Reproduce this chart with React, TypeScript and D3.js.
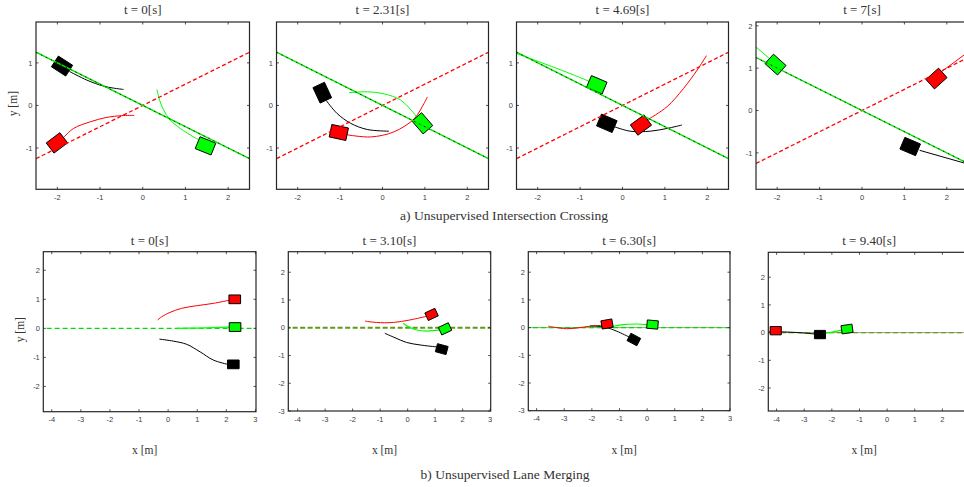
import React from "react";
import * as d3 from "d3";

type Pt = [number, number];
type Car = [number, number, number]; // x, y, heading (deg)

// ---------- Data: a) Unsupervised Intersection Crossing ----------
const topTitles = ["t = 0[s]", "t = 2.31[s]", "t = 4.69[s]", "t = 7[s]"];
const topXTicks = [-2, -1, 0, 1, 2];
const topYTicks = [[-1, 0, 1], [-1, 0, 1], [-1, 0, 1], [-1, 0, 1, 2]];
const redLaneRef: Pt[] = [[-2.5, -1.25], [2.5, 1.25]];
const greenBlackLaneRef: Pt[] = [[-2.5, 1.25], [2.5, -1.25]];

const topRedCars: Car[] = [[-2.01, -0.88, 37], [-1.03, -0.635, -12], [0.435, -0.46, 36], [1.757, 0.755, 42]];
const topGreenCars: Car[] = [[1.47, -0.95, -22], [0.94, -0.42, -49], [-0.607, 0.485, -23], [-2.04, 1.085, -42]];
const topBlackCars: Car[] = [[-1.89, 0.925, -33], [-1.42, 0.3, -65], [-0.37, -0.42, -23], [1.137, -0.85, -23]];

const topRedPaths: Pt[][] = [
  [[-1.85, -0.75], [-1.62, -0.54], [-1.23, -0.385], [-0.84, -0.28], [-0.5, -0.24], [-0.2, -0.235]],
  [[-0.83, -0.69], [-0.28, -0.74], [0.27, -0.62], [0.75, -0.31], [0.98, 0.05], [1.06, 0.2]],
  [[0.6, -0.33], [1.05, -0.03], [1.44, 0.4], [1.76, 0.83], [1.98, 1.17]],
  [[1.88, 0.92], [2.5, 1.38]],
];
const topGreenPaths: Pt[][] = [
  [[1.3, -0.8], [1.19, -0.74], [0.88, -0.54], [0.645, -0.345], [0.49, -0.11], [0.395, 0.125], [0.33, 0.376]],
  [[0.8, -0.26], [0.43, 0.125], [0.04, 0.27], [-0.36, 0.32], [-0.79, 0.3]],
  [[-0.79, 0.57], [-1.55, 0.87], [-2.5, 1.22]],
  [[-2.15, 1.2], [-2.5, 1.5]],
];
const topBlackPaths: Pt[][] = [
  [[-1.72, 0.8], [-1.31, 0.595], [-0.92, 0.454], [-0.685, 0.407], [-0.45, 0.376]],
  [[-1.33, 0.12], [-1.07, -0.19], [-0.75, -0.42], [-0.36, -0.565], [0.15, -0.605]],
  [[-0.19, -0.5], [0.18, -0.605], [0.655, -0.605], [1.05, -0.54], [1.405, -0.46]],
  [[1.36, -0.94], [2.5, -1.265]],
];

// ---------- Data: b) Unsupervised Lane Merging ----------
const botTitles = ["t = 0[s]", "t = 3.10[s]", "t = 6.30[s]", "t = 9.40[s]"];
const botXTicks = [[-4, -3, -2, -1, 0, 1, 2, 3], [-4, -3, -2, -1, 0, 1, 2, 3], [-4, -3, -2, -1, 0, 1, 2, 3], [-4, -3, -2, -1, 0, 1, 2]];
const botYTicks = [[-2, -1, 0, 1, 2], [-3, -2, -1, 0, 1, 2], [-3, -2, -1, 0, 1, 2], [-2, -1, 0, 1, 2]];
const laneRef: Pt[] = [[-5, 0], [4, 0]];

const botRedCars: Car[] = [[2.29, 1.0, 0], [0.87, 0.48, 25], [-1.45, 0.13, 10], [-4.03, 0.07, 0]];
const botGreenCars: Car[] = [[2.3, 0.045, 0], [1.36, -0.04, 25], [0.195, 0.11, -5], [-1.45, 0.13, 8]];
const botBlackCars: Car[] = [[2.24, -1.24, 0], [1.24, -0.77, -15], [-0.48, -0.43, -28], [-2.43, -0.07, 0]];

const botRedPaths: Pt[][] = [
  [[2.13, 0.976], [1.55, 0.86], [0.98, 0.78], [0.467, 0.69], [0.065, 0.55], [-0.22, 0.4], [-0.36, 0.29]],
  [[0.68, 0.41], [0.08, 0.28], [-0.52, 0.19], [-1.13, 0.19], [-1.55, 0.24]],
  [[-1.65, 0.08], [-2.07, 0.05], [-2.5, -0.01], [-2.92, -0.04], [-3.34, 0.01], [-3.58, 0.05]],
  [[-4.2, 0.05], [-4.32, 0.05]],
];
const botGreenPaths: Pt[][] = [
  [[0.3, 0.0], [1.0, 0.01], [1.6, 0.025], [2.1, 0.04]],
  [[1.17, -0.08], [0.69, -0.12], [0.33, -0.08], [0.02, 0.04], [-0.16, 0.16]],
  [[0.0, 0.11], [-0.38, 0.13], [-0.87, 0.11], [-1.23, 0.05], [-1.53, -0.04]],
  [[-2.3, -0.03], [-1.95, 0.03], [-1.62, 0.1]],
];
const botBlackPaths: Pt[][] = [
  [[2.05, -1.24], [1.55, -1.09], [1.1, -0.81], [0.64, -0.55], [0.18, -0.44], [-0.3, -0.37]],
  [[1.05, -0.69], [0.45, -0.62], [-0.04, -0.53], [-0.46, -0.36], [-0.83, -0.2]],
  [[-0.65, -0.34], [-1.1, -0.13], [-1.53, 0.02], [-2.07, 0.06]],
  [[-3.85, 0.03], [-3.2, 0.0], [-2.62, -0.05]],
];

// ---------- Layout ----------
type Box = [number, number, number, number];
interface Cfg { box: Box; xd: [number, number]; yd: [number, number] }
const topLayout: Cfg[] = [
  { box: [36, 22, 249.5, 189.3], xd: [-2.5, 2.5], yd: [-1.97, 1.96] },
  { box: [276.5, 22, 488.5, 189.3], xd: [-2.5, 2.5], yd: [-1.97, 1.96] },
  { box: [516.5, 22, 728.5, 189.3], xd: [-2.5, 2.5], yd: [-1.97, 1.96] },
  { box: [756, 22, 968, 189.3], xd: [-2.5, 2.5], yd: [-1.86, 2.09] },
];
const botLayout: Cfg[] = [
  { box: [43.3, 251.7, 256, 411.7], xd: [-4.29, 3.02], yd: [-2.87, 2.64] },
  { box: [288.3, 251.7, 490.7, 411], xd: [-4.34, 3.02], yd: [-3.0, 2.74] },
  { box: [528.3, 251.7, 730, 410.7], xd: [-4.3, 3.0], yd: [-3.0, 2.74] },
  { box: [768.3, 252.3, 970, 411], xd: [-4.3, 3.0], yd: [-2.83, 2.9] },
];
const botLaneStyles = [
  [{ c: "#00dd00", w: 1.3, d: "5 3" }],
  [{ c: "#5f9a12", w: 2.2, d: "5 2.5" }],
  [{ c: "#8a8a6a", w: 0.8, d: "" }, { c: "#00dd00", w: 1.3, d: "5 3" }],
  [{ c: "#8a8a6a", w: 0.8, d: "" }, { c: "#5fa020", w: 1.4, d: "5 3" }],
];

const CAR_L = 0.4;
const CAR_W = 0.3;
const RED = "#ff0000";
const GREEN = "#00ff00";
const AX = "#262626";
const SERIF = "'Liberation Serif', 'DejaVu Serif', serif";
const SANS = "'Liberation Sans', Arial, sans-serif";

function carD(c: Car, xs: d3.ScaleLinear<number, number>, ys: d3.ScaleLinear<number, number>) {
  const [cx, cy, hd] = c;
  const a = (hd * Math.PI) / 180;
  const ux = Math.cos(a), uy = Math.sin(a), vx = -uy, vy = ux;
  const pts = [[1, 1], [1, -1], [-1, -1], [-1, 1]].map(([s, t]) => [
    cx + (s * CAR_L) / 2 * ux + (t * CAR_W) / 2 * vx,
    cy + (s * CAR_L) / 2 * uy + (t * CAR_W) / 2 * vy,
  ]);
  return "M" + pts.map((p) => `${xs(p[0])},${ys(p[1])}`).join("L") + "Z";
}

interface PanelProps {
  id: string;
  cfg: Cfg;
  title: string;
  xticks: number[];
  yticks: number[];
  yLabel: boolean;
  xLabel: boolean;
  titleY: number;
  under: (xs: any, ys: any, line: any) => React.ReactNode;
  over: (xs: any, ys: any, line: any) => React.ReactNode;
  cars: { c: Car; fill: string }[];
  paths: { p: Pt[]; stroke: string; w?: number }[];
}

function Panel(props: PanelProps) {
  const { id, cfg, title, xticks, yticks, yLabel, xLabel, titleY } = props;
  const [l, t, r, b] = cfg.box;
  const xs = d3.scaleLinear().domain(cfg.xd).range([l, r]);
  const ys = d3.scaleLinear().domain(cfg.yd).range([b, t]);
  const line = d3.line<Pt>().x((d) => xs(d[0])).y((d) => ys(d[1]));
  const smooth = d3.line<Pt>().x((d) => xs(d[0])).y((d) => ys(d[1])).curve(d3.curveCatmullRom.alpha(0.5));
  const tl = 2.5;
  const cx = (l + r) / 2;
  const cy = (t + b) / 2;
  return (
    <g>
      <defs>
        <clipPath id={id}>
          <rect x={l} y={t} width={r - l} height={b - t} />
        </clipPath>
      </defs>
      <rect x={l} y={t} width={r - l} height={b - t} fill="#fff" />
      <g clipPath={`url(#${id})`}>
        {props.under(xs, ys, line)}
        {props.paths.map((p, i) => (
          <path key={"p" + i} d={smooth(p.p) || ""} fill="none" stroke={p.stroke} strokeWidth={p.w ?? 1} />
        ))}
        {props.cars.map((c, i) => (
          <path key={"c" + i} d={carD(c.c, xs, ys)} fill={c.fill} stroke="#000" strokeWidth={1} strokeLinejoin="miter" />
        ))}
        {props.over(xs, ys, line)}
      </g>
      {xticks.map((v) => (
        <g key={"xt" + v}>
          <line x1={xs(v)} x2={xs(v)} y1={b} y2={b - tl} stroke={AX} strokeWidth={0.8} />
          <line x1={xs(v)} x2={xs(v)} y1={t} y2={t + tl} stroke={AX} strokeWidth={0.8} />
          <text x={xs(v)} y={b + 10.5} fontSize={7.5} fontFamily={SANS} fill="#404040" textAnchor="middle">
            {v}
          </text>
        </g>
      ))}
      {yticks.map((v) => (
        <g key={"yt" + v}>
          <line x1={l} x2={l + tl} y1={ys(v)} y2={ys(v)} stroke={AX} strokeWidth={0.8} />
          <line x1={r} x2={r - tl} y1={ys(v)} y2={ys(v)} stroke={AX} strokeWidth={0.8} />
          <text x={l - 3.5} y={ys(v) + 2.7} fontSize={7.5} fontFamily={SANS} fill="#404040" textAnchor="end">
            {v}
          </text>
        </g>
      ))}
      <rect x={l} y={t} width={r - l} height={b - t} fill="none" stroke={AX} strokeWidth={1.2} />
      <text x={cx} y={titleY} fontSize={13} fontFamily={SERIF} fill="#333" textAnchor="middle">
        {title}
      </text>
      {yLabel && (
        <text
          transform={`translate(${l - 19},${cy - 2}) rotate(-90)`}
          fontSize={11.5}
          fontFamily={SERIF}
          fill="#333"
          textAnchor="middle"
        >
          y [m]
        </text>
      )}
      {xLabel && (
        <text x={cx - 5} y={454} fontSize={11.5} fontFamily={SERIF} fill="#333" textAnchor="middle">
          x [m]
        </text>
      )}
    </g>
  );
}

export default function App() {
  return (
    <svg
      width={964}
      height={487}
      viewBox="0 0 964 487"
      style={{ position: "absolute", left: 0, top: 0, background: "#fff" }}
    >
      <rect x={0} y={0} width={964} height={487} fill="#fff" />
      {topLayout.map((cfg, i) => (
        <Panel
          key={"top" + i}
          id={"clipTop" + i}
          cfg={cfg}
          title={topTitles[i]}
          xticks={topXTicks}
          yticks={topYTicks[i]}
          yLabel={i === 0}
          xLabel={false}
          titleY={14}
          under={() => null}
          paths={[
            { p: topRedPaths[i], stroke: RED },
            { p: topGreenPaths[i], stroke: GREEN },
            { p: topBlackPaths[i], stroke: "#000" },
          ]}
          cars={[
            { c: topRedCars[i], fill: RED },
            { c: topGreenCars[i], fill: GREEN },
            { c: topBlackCars[i], fill: "#000" },
          ]}
          over={(xs, ys, line) => (
            <g>
              <path d={line(redLaneRef)} stroke={RED} strokeWidth={1.3} strokeDasharray="4 2.5" fill="none" />
              <path d={line(greenBlackLaneRef)} stroke="#00e600" strokeWidth={1.4} fill="none" />
              <path d={line(greenBlackLaneRef)} stroke="#000" strokeWidth={0.8} strokeDasharray="1.5 4" fill="none" />
            </g>
          )}
        />
      ))}
      {botLayout.map((cfg, i) => (
        <Panel
          key={"bot" + i}
          id={"clipBot" + i}
          cfg={cfg}
          title={botTitles[i]}
          xticks={botXTicks[i]}
          yticks={botYTicks[i]}
          yLabel={i === 0}
          xLabel={true}
          titleY={245}
          under={(xs, ys, line) => (
            <g>
              {botLaneStyles[i].map((s, k) => (
                <path
                  key={k}
                  d={line(laneRef)}
                  stroke={s.c}
                  strokeWidth={s.w}
                  strokeDasharray={s.d || undefined}
                  fill="none"
                />
              ))}
            </g>
          )}
          paths={[
            { p: botRedPaths[i], stroke: RED },
            { p: botGreenPaths[i], stroke: GREEN, w: 1.2 },
            { p: botBlackPaths[i], stroke: "#000" },
          ]}
          cars={[
            { c: botRedCars[i], fill: RED },
            { c: botGreenCars[i], fill: GREEN },
            { c: botBlackCars[i], fill: "#000" },
          ]}
          over={() => null}
        />
      ))}
      <text
        x={504}
        y={219.5}
        fontSize={12.5}
        fontFamily={SERIF}
        fill="#333"
        textAnchor="middle"
        textLength={208}
        lengthAdjust="spacingAndGlyphs"
      >
        a) Unsupervised Intersection Crossing
      </text>
      <text
        x={505}
        y={478.5}
        fontSize={12.5}
        fontFamily={SERIF}
        fill="#333"
        textAnchor="middle"
        textLength={169}
        lengthAdjust="spacingAndGlyphs"
      >
        b) Unsupervised Lane Merging
      </text>
    </svg>
  );
}
